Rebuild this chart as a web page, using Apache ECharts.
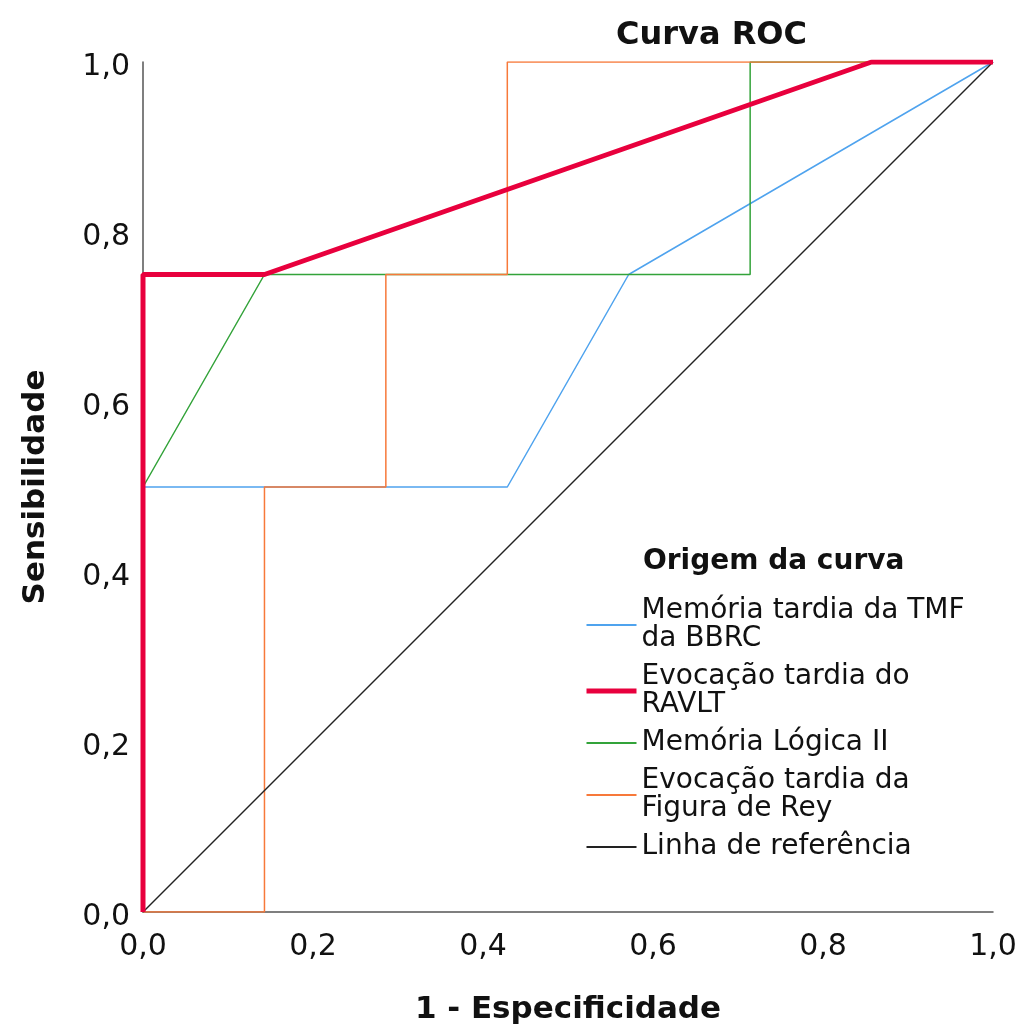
<!DOCTYPE html>
<html>
<head>
<meta charset="utf-8">
<script src="https://cdn.jsdelivr.net/npm/echarts@6/dist/echarts.min.js"></script>
<style>
  html, body { margin: 0; padding: 0; background: #fff; }
  #chart { width: 1022px; height: 1030px; }
</style>
</head>
<body>
<div id="chart"></div>
<script>
// curve names (legend order)
var seriesNames = [
  "Memória tardia da TMF\nda BBRC",
  "Evocação tardia do\nRAVLT",
  "Memória Lógica II",
  "Evocação tardia da\nFigura de Rey",
  "Linha de referência"
];
var seriesColors = ["#4fa3ee", "#e8003d", "#33a33a", "#f7793a", "#222222"];
var seriesWidths = [1.5, 5, 1.5, 1.5, 1.5];

// 1 - especificidade (x) e sensibilidade (y) de cada curva
var tmfX = [0, 0, 0.4286, 0.5714, 1];
var tmfY = [0, 0.5, 0.5, 0.75, 1];
var ravltX = [0, 0, 0.1429, 0.8571, 1];
var ravltY = [0, 0.75, 0.75, 1, 1];
var logicaX = [0, 0, 0.1429, 0.7143, 0.7143, 1];
var logicaY = [0, 0.5, 0.75, 0.75, 1, 1];
var reyX = [0, 0.1429, 0.1429, 0.2857, 0.2857, 0.4286, 0.4286, 1];
var reyY = [0, 0, 0.5, 0.5, 0.75, 0.75, 1, 1];
var refX = [0, 1];
var refY = [0, 1];

function pairs(xs, ys) {
  return xs.map(function (x, i) { return [x, ys[i]]; });
}
var curves = [
  pairs(tmfX, tmfY),
  pairs(ravltX, ravltY),
  pairs(logicaX, logicaY),
  pairs(reyX, reyY),
  pairs(refX, refY)
];

var font = "DejaVu Sans";
var chartDom = echarts.init(document.getElementById("chart"));

function fmt(v) {
  return v.toFixed(1).replace(".", ",");
}

var option = {
  animation: false,
  title: [
    {
      text: "Curva ROC",
      left: 611,
      top: 15,
      textStyle: { fontFamily: font, fontSize: 32, fontWeight: "bold", color: "#111" }
    },
    {
      text: "Origem da curva",
      left: 638,
      top: 543,
      textStyle: { fontFamily: font, fontSize: 28, fontWeight: "bold", color: "#111" }
    }
  ],
  grid: { left: 143, right: 29, top: 62, bottom: 117 },
  legend: {
    orient: "vertical",
    left: 579,
    top: 592,
    itemWidth: 50,
    itemGap: 10,
    itemHeight: 14,
    itemStyle: { opacity: 0 },
    data: seriesNames.map(function (n, i) {
      return { name: n, lineStyle: { width: seriesWidths[i] === 5 ? 5 : 2, color: seriesColors[i] } };
    }),
    textStyle: { fontFamily: font, fontSize: 28, lineHeight: 28, color: "#111" }
  },
  xAxis: {
    type: "value",
    min: 0,
    max: 1,
    interval: 0.2,
    name: "1 - Especificidade",
    nameLocation: "middle",
    nameGap: 82,
    nameTextStyle: { fontFamily: font, fontSize: 31, fontWeight: "bold", color: "#111" },
    axisLine: { show: true, lineStyle: { color: "#555", width: 1.5 } },
    axisTick: { show: false },
    splitLine: { show: false },
    axisLabel: { margin: 20, fontFamily: font, fontSize: 30, color: "#111", formatter: fmt }
  },
  yAxis: {
    type: "value",
    min: 0,
    max: 1,
    interval: 0.2,
    name: "Sensibilidade",
    nameLocation: "middle",
    nameGap: 92,
    nameTextStyle: { fontFamily: font, fontSize: 31, fontWeight: "bold", color: "#111" },
    axisLine: { show: true, lineStyle: { color: "#555", width: 1.5 } },
    axisTick: { show: false },
    splitLine: { show: false },
    axisLabel: {
      margin: 13,
      verticalAlign: "top",
      lineHeight: 10,
      fontFamily: font,
      fontSize: 30,
      color: "#111",
      formatter: fmt
    }
  },
  series: curves.map(function (d, i) {
    return {
      name: seriesNames[i],
      type: "line",
      data: d,
      symbol: "none",
      color: seriesColors[i],
      z: i === 1 ? 3 : 2,
      lineStyle: { width: seriesWidths[i], color: seriesColors[i] }
    };
  })
};

chartDom.setOption(option);
</script>
</body>
</html>
